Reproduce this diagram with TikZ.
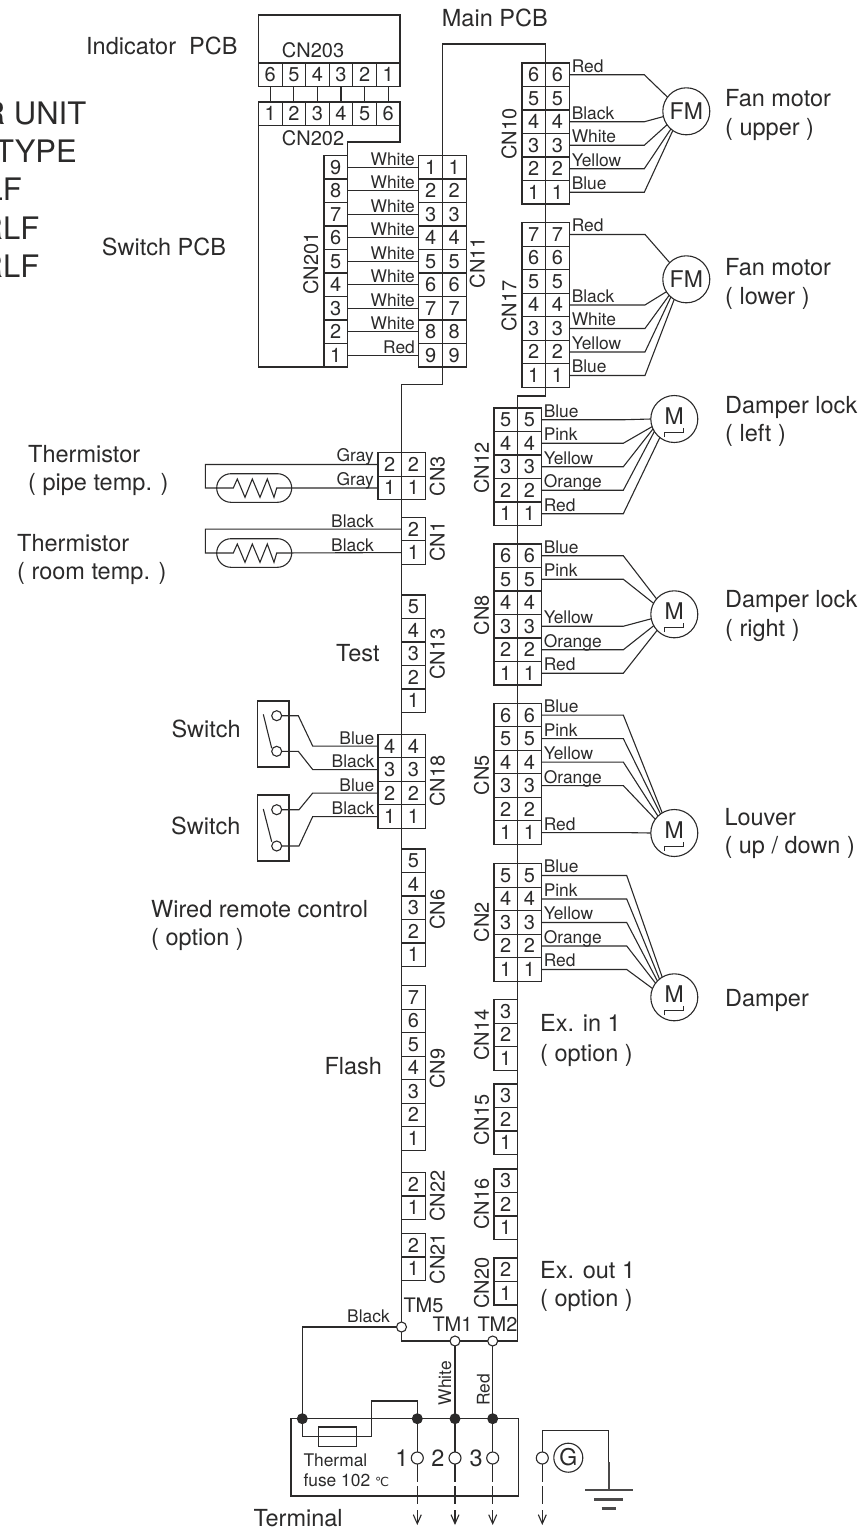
\documentclass[tikz,border=0pt]{standalone}
\usepackage{fontspec}
\setmainfont{TeX Gyre Heros}
\newfontfamily\djfont{DejaVu Sans}
\usetikzlibrary{arrows.meta}
\definecolor{ink}{HTML}{2B2A2A}
\newcommand{\fsbig}{\fontsize{23.5}{28}\selectfont}
\newcommand{\fsmid}{\fontsize{20}{24}\selectfont}
\newcommand{\fswire}{\fontsize{17.4}{21}\selectfont}
\newcommand{\fshuge}{\fontsize{31}{37}\selectfont}
\newcommand{\lowered}[2]{\raisebox{-#1pt}[0pt][0pt]{#2}}
\tikzset{
  every node/.style={text=ink},
  wire/.style={draw=ink,line width=1.1pt,line join=miter},
  cell/.style={draw=ink,line width=1.1pt,rectangle,inner sep=0pt,outer sep=0pt,minimum width=23.6pt,minimum height=23.5pt,font=\fsmid},
  biglab/.style={anchor=base west,inner sep=0pt,font=\fsbig},
  midlab/.style={inner sep=0pt,font=\fsmid},
  cnlab/.style={inner sep=0pt,font=\fsmid,rotate=90},
  wl/.style={anchor=base west,inner sep=0pt,font=\fswire},
  wlr/.style={anchor=base east,inner sep=0pt,font=\fswire},
  motor/.style={draw=ink,line width=1.1pt,circle,minimum size=47pt,inner sep=0pt,outer sep=0pt,font=\fontsize{23}{28}\selectfont,fill=white},
  contact/.style={draw=ink,line width=1.1pt,circle,minimum size=10pt,inner sep=0pt,outer sep=0pt,fill=white},
  tcontact/.style={draw=ink,line width=1.1pt,circle,minimum size=12pt,inner sep=0pt,outer sep=0pt,fill=white},
  dot/.style={circle,fill=ink,minimum size=11pt,inner sep=0pt,outer sep=0pt},
  termdash/.style={wire,dash pattern=on 18pt off 4pt},
  termarrow/.style={wire,-{Straight Barb[length=9pt,width=8pt]}}
}
% vertical connector column: name, x left, y top, numbers top to bottom
\newcommand{\cncol}[4]{\foreach \n [count=\i from 0] in {#4}
  {\node[cell] (#1-\n) at ({#2+11.8},{#3+\i*23.5+11.75}) {\lowered{7}{\n}};}}
% horizontal connector row
\newcommand{\cnrow}[4]{\foreach \n [count=\i from 0] in {#4}
  {\node[cell] (#1-\n) at ({#2+\i*23.58+11.79},{#3+11.75}) {\lowered{7}{\n}};}}
% wire from a cell to a motor through an elbow
\newcommand{\mw}[4]{\draw[wire] (#1.east) node[wl,xshift=2pt,yshift=2.5pt] (lab-#1) {#4} -- (#1.east -| #2) -- (#3);}
\newcommand{\mmark}[1]{\draw[wire,line width=1pt] ([shift={(-10,18)}]#1.center) -- ++(0,-5) -- ++(19,0) -- ++(0,-4.5);}
\begin{document}
\begin{tikzpicture}[x=1pt,y=-1pt]
\useasboundingbox (0,0) rectangle (866,1535);
\clip (0,0) rectangle (866,1535);
\coordinate (eA) at (644.3,0);
\coordinate (eB) at (645,0);
\coordinate (eC) at (623.3,0);
\coordinate (eD) at (626.7,0);
\coordinate (eE) at (312.7,0);
% cut-off heading at the left edge
\node[anchor=base east,inner sep=0pt,font=\fshuge] (h1) at (86.5,124) {R UNIT};
\node[anchor=base east,inner sep=0pt,font=\fshuge] (h2) at (77,162.3) {TYPE};
\node[anchor=base east,inner sep=0pt,font=\fshuge] (h3) at (22,200.7) {LF};
\node[anchor=base east,inner sep=0pt,font=\fshuge] (h4) at (39.5,239.3) {RLF};
\node[anchor=base east,inner sep=0pt,font=\fshuge] (h5) at (39.5,277.3) {RLF};
\node[anchor=base east,inner sep=0pt,font=\fshuge] (h6) at (6,1527) {1};
% board outlines
\draw[wire] (258.5,63) -- (258.5,15) -- (400,15) -- (400,63);
\draw[wire] (258.5,125) -- (258.5,367) -- (324,367);
\draw[wire] (400,125) -- (400,142) -- (347.5,142) -- (347.5,155.5);
\draw[wire] (442.7,155.5) -- (442.7,44) -- (545.7,44) -- (545.7,396) -- (517.7,396) -- (517.7,1341) -- (401.7,1341) -- (401.7,384.3) -- (442.7,384.3) -- (442.7,367);
% connectors
\cnrow{CN203}{258.5}{63}{6,5,4,3,2,1}
\cnrow{CN202}{258.5}{102}{1,2,3,4,5,6}
\foreach \a/\b in {6/1,5/2,4/3,3/4,2/5,1/6} {\draw[wire] (CN203-\a.south) -- (CN202-\b.north);}
\cncol{CN201}{324}{155.5}{9,8,7,6,5,4,3,2,1}
\cncol{CN11L}{418.9}{155.5}{1,2,3,4,5,6,7,8,9}
\cncol{CN11R}{442.5}{155.5}{1,2,3,4,5,6,7,8,9}
\cncol{CN10L}{522}{63}{6,5,4,3,2,1}
\cncol{CN10R}{545.6}{63}{6,5,4,3,2,1}
\cncol{CN17L}{522}{222.7}{7,6,5,4,3,2,1}
\cncol{CN17R}{545.6}{222.7}{7,6,5,4,3,2,1}
\cncol{CN3L}{378}{452.7}{2,1}
\cncol{CN3R}{401.6}{452.7}{2,1}
\cncol{CN1}{401.6}{517.3}{2,1}
\cncol{CN13}{401.6}{595}{5,4,3,2,1}
\cncol{CN18L}{378}{734.3}{4,3,2,1}
\cncol{CN18R}{401.6}{734.3}{4,3,2,1}
\cncol{CN6}{401.6}{849}{5,4,3,2,1}
\cncol{CN9}{401.6}{985.7}{7,6,5,4,3,2,1}
\cncol{CN22}{401.6}{1172.5}{2,1}
\cncol{CN21}{401.6}{1233.5}{2,1}
\cncol{CN12L}{494}{408}{5,4,3,2,1}
\cncol{CN12R}{517.6}{408}{5,4,3,2,1}
\cncol{CN8L}{494}{544}{6,5,4,3,2,1}
\cncol{CN8R}{517.6}{544}{6,5,4,3,2,1}
\cncol{CN5L}{494}{703.3}{6,5,4,3,2,1}
\cncol{CN5R}{517.6}{703.3}{6,5,4,3,2,1}
\cncol{CN2L}{494}{863.7}{5,4,3,2,1}
\cncol{CN2R}{517.6}{863.7}{5,4,3,2,1}
\cncol{CN14}{494}{999.7}{3,2,1}
\cncol{CN15}{494}{1084}{3,2,1}
\cncol{CN16}{494}{1169}{3,2,1}
\cncol{CN20}{494}{1258}{2,1}
% connector names
\node[midlab] (t203) at (313,50) {CN203};
\node[midlab] (t202) at (313,138) {CN202};
\node[cnlab] (t201) at (310.8,263.7) {CN201};
\node[cnlab] (t11) at (477.3,262.5) {CN11};
\node[cnlab] (t10) at (509,134) {CN10};
\node[cnlab] (t17) at (509,306) {CN17};
\node[cnlab] (t3) at (437.3,476) {CN3};
\node[cnlab] (t1) at (437.3,541.5) {CN1};
\node[cnlab] (t13) at (437.3,654) {CN13};
\node[cnlab] (t18) at (437.3,781) {CN18};
\node[cnlab] (t6) at (437.3,909.5) {CN6};
\node[cnlab] (t9) at (437.3,1068.8) {CN9};
\node[cnlab] (t22) at (437.3,1196.3) {CN22};
\node[cnlab] (t21) at (437.3,1258.8) {CN21};
\node[cnlab] (t12) at (481.7,468) {CN12};
\node[cnlab] (t8) at (481.7,615) {CN8};
\node[cnlab] (t5) at (481.7,775) {CN5};
\node[cnlab] (t2) at (481.7,922) {CN2};
\node[cnlab] (t14) at (481.7,1035) {CN14};
\node[cnlab] (t15) at (481.7,1120) {CN15};
\node[cnlab] (t16) at (481.7,1204) {CN16};
\node[cnlab] (t20) at (481.7,1283.3) {CN20};
% CN201 to CN11
\foreach \a/\b/\t in {9/1/White,8/2/White,7/3/White,6/4/White,5/5/White,4/6/White,3/7/White,2/8/White,1/9/Red}
  {\draw[wire] (CN201-\a.east) -- (CN11L-\b.west) node[wlr,pos=1,xshift=-3.5pt,yshift=2pt] (w\a) {\t};}
% motors
\node[motor] (fm1) at (686.3,111.3) {\lowered{8.2}{FM}};
\node[motor] (fm2) at (686.3,279.3) {\lowered{8.2}{FM}};
\node[motor] (m1) at (674.3,419) {\lowered{5.5}{M}};
\node[motor] (m2) at (674.3,614.3) {\lowered{5.5}{M}};
\node[motor] (m3) at (674.3,833) {\lowered{5.5}{M}};
\node[motor] (m4) at (674.3,997.3) {\lowered{5.5}{M}};
\mmark{m1}\mmark{m2}\mmark{m3}\mmark{m4}
\mw{CN10R-6}{eA}{fm1.143}{Red}
\mw{CN10R-4}{eA}{fm1.193}{Black}
\mw{CN10R-3}{eA}{fm1.215}{White}
\mw{CN10R-2}{eA}{fm1.229}{Yellow}
\mw{CN10R-1}{eA}{fm1.235}{Blue}
\mw{CN17R-7}{eB}{fm2.135}{Red}
\mw{CN17R-4}{eB}{fm2.212}{Black}
\mw{CN17R-3}{eB}{fm2.223}{White}
\mw{CN17R-2}{eB}{fm2.229}{Yellow}
\mw{CN17R-1}{eB}{fm2.239}{Blue}
\mw{CN12R-5}{eC}{m1.180}{Blue}
\mw{CN12R-4}{eC}{m1.199}{Pink}
\mw{CN12R-3}{eC}{m1.205}{Yellow}
\mw{CN12R-2}{eC}{m1.212}{Orange}
\mw{CN12R-1}{eC}{m1.232}{Red}
\mw{CN8R-6}{eC}{m2.139}{Blue}
\mw{CN8R-5}{eC}{m2.152}{Pink}
\mw{CN8R-3}{eC}{m2.191}{Yellow}
\mw{CN8R-2}{eC}{m2.209}{Orange}
\mw{CN8R-1}{eC}{m2.223}{Red}
\mw{CN5R-6}{eC}{m3.121}{Blue}
\mw{CN5R-5}{eC}{m3.126}{Pink}
\mw{CN5R-4}{eC}{m3.134}{Yellow}
\mw{CN5R-3}{eC}{m3.144}{Orange}
\mw{CN5R-1}{eC}{m3.180}{Red}
\mw{CN2R-5}{eD}{m4.121}{Blue}
\mw{CN2R-4}{eD}{m4.129}{Pink}
\mw{CN2R-3}{eD}{m4.136}{Yellow}
\mw{CN2R-2}{eD}{m4.143}{Orange}
\mw{CN2R-1}{eD}{m4.158}{Red}
% thermistors
\draw[wire,rounded corners=14.3pt] (216.7,473.7) rectangle (291.7,502.3);
\draw[wire,rounded corners=14.3pt] (216.7,538.7) rectangle (291.7,567.3);
\draw[wire] (CN3L-2.west) -| (205.3,488) -- (233.3,488) -- ++(4,-9) -- ++(7.7,18.3) -- ++(7.3,-18.3) -- ++(7.7,18.3) -- ++(7.3,-18.3) -- ++(6.7,18.3) -- ++(2.7,-9.3) -- (CN3L-1.west);
\draw[wire] (CN1-2.west) -| (205.3,553) -- (233.3,553) -- ++(4,-9) -- ++(7.7,18.3) -- ++(7.3,-18.3) -- ++(7.7,18.3) -- ++(7.3,-18.3) -- ++(6.7,18.3) -- ++(2.7,-9.3) -- (CN1-1.west);
\node[wlr] (g1) at (374,461.7) {Gray};
\node[wlr] (g2) at (374,485) {Gray};
\node[wlr] (b1) at (374,527.3) {Black};
\node[wlr] (b2) at (374,551) {Black};
% switches
\draw[wire] (257.7,701) rectangle (289,767);
\draw[wire] (257.7,795) rectangle (289,861);
\draw[wire] (263.3,714.3) -- (271.7,748.3);
\draw[wire] (263.3,809) -- (271.7,841.7);
\node[contact] (s1a) at (276.7,715.7) {};
\node[contact] (s1b) at (276.7,751.3) {};
\node[contact] (s2a) at (276.7,809.7) {};
\node[contact] (s2b) at (276.7,846) {};
\draw[wire] (s1a.east) -- (298.3,715.7) -- (CN18L-4.west -| eE) -- (CN18L-4.west);
\draw[wire] (s1b.east) -- (298.3,751.3) -- (CN18L-3.west -| eE) -- (CN18L-3.west);
\draw[wire] (s2a.east) -- (299,809.7) -- (CN18L-2.west -| eE) -- (CN18L-2.west);
\draw[wire] (s2b.east) -- (299,846) -- (CN18L-1.west -| eE) -- (CN18L-1.west);
\node[wlr] (sl1) at (374.5,744) {Blue};
\node[wlr] (sl2) at (374.5,767) {Black};
\node[wlr] (sl3) at (374.5,791) {Blue};
\node[wlr] (sl4) at (374.5,814) {Black};
% big labels
\node[biglab] (a1) at (86,54) {Indicator\ \ PCB};
\node[biglab] (a2) at (101.7,255.7) {Switch PCB};
\node[biglab] (a3) at (441.7,26.7) {Main PCB};
\node[biglab] (a4) at (725,106.7) {Fan motor};
\node[biglab] (a5) at (725,135) {( upper )};
\node[biglab] (a6) at (725,275) {Fan motor};
\node[biglab] (a7) at (725,304) {( lower )};
\node[biglab] (a8) at (725,413.3) {Damper lock};
\node[biglab] (a9) at (725,441.7) {( left )};
\node[biglab] (a10) at (725,607.7) {Damper lock};
\node[biglab] (a11) at (725,636) {( right )};
\node[biglab] (a12) at (724.3,825) {Louver};
\node[biglab] (a13) at (724.3,853.3) {( up / down )};
\node[biglab] (a14) at (725,1006.7) {Damper};
\node[biglab] (a15) at (540,1031.7) {Ex. in 1};
\node[biglab] (a16) at (540,1061.7) {( option )};
\node[biglab] (a17) at (540,1278.3) {Ex. out 1};
\node[biglab] (a18) at (540,1306.7) {( option )};
\node[biglab] (a19) at (28,462.3) {Thermistor};
\node[biglab] (a20) at (28,490) {( pipe temp. )};
\node[biglab] (a21) at (17,551) {Thermistor};
\node[biglab] (a22) at (17,579) {( room temp. )};
\node[biglab] (a23) at (336,661.7) {Test};
\node[biglab] (a24) at (171.3,737.7) {Switch};
\node[biglab] (a25) at (171,834) {Switch};
\node[biglab] (a26) at (151,917.3) {Wired remote control};
\node[biglab] (a27) at (151,945.7) {( option )};
\node[biglab] (a28) at (324.3,1074.3) {Flash};
\node[biglab] (a29) at (253.3,1526) {Terminal};
% terminal points on the main board
\node[contact] (tm5) at (401.5,1327) {};
\node[contact] (tm1) at (455,1341) {};
\node[contact] (tm2) at (492.7,1341) {};
\node[midlab,anchor=base west] (l5) at (403.3,1312.7) {TM5};
\node[midlab,anchor=base west] (l1) at (432.3,1331.7) {TM1};
\node[midlab,anchor=base west] (l2) at (477.3,1331.7) {TM2};
\node[wlr] (tb) at (390,1322.7) {Black};
% terminal block
\draw[wire] (291,1418.7) rectangle (518.3,1496);
\draw[wire,line width=1.5pt] (291,1418.7) -- (518.3,1418.7);
\node[dot] (d0) at (302.3,1418.7) {};
\node[dot] (d1) at (417.3,1418.7) {};
\node[dot] (d2) at (455,1418.7) {};
\node[dot] (d3) at (492.7,1418.7) {};
\draw[wire] (tm5.west) -| (d0.center);
\draw[wire] (tm1.south) -- (d2.center);
\draw[wire] (tm2.south) -- (d3.center);
\draw[wire] (d0.center) |- (371.7,1436.7) |- (417.3,1401) -- (d1.center);
\draw[wire] (318.3,1427) rectangle (356.7,1446.3);
\node[tcontact] (c1) at (417.3,1458) {};
\node[tcontact] (c2) at (455,1458) {};
\node[tcontact] (c3) at (492.7,1458) {};
\node[tcontact] (c4) at (542.3,1458) {};
\draw[wire] (d1.center) -- (c1.north);
\draw[wire] (d2.center) -- (c2.north);
\draw[wire] (d3.center) -- (c3.north);
\foreach \c/\x in {c1/417.3,c2/455,c3/492.7,c4/542.3} {
  \coordinate (\c-e) at (\x,1505);
  \coordinate (\c-s) at (\x,1510);
  \coordinate (\c-t) at (\x,1525);
  \draw[termdash] (\c.south) -- (\c-e);
  \draw[termarrow] (\c-s) -- (\c-t);
}
\node[biglab] (n1) at (395.2,1466) {1};
\node[biglab] (n2) at (431.2,1466) {2};
\node[biglab] (n3) at (469.5,1466) {3};
\node[wl] (f1) at (303.3,1466.7) {Thermal};
\node[wl] (f2) at (303.3,1486.7) {fuse 102 {\djfont\fontsize{12.5}{15}\selectfont ℃}};
\node[wl,anchor=center,rotate=90] (rw) at (445,1383) {White};
\node[wl,anchor=center,rotate=90] (rr) at (483.3,1390) {Red};
% ground
\node[motor,minimum size=29pt] (gnd) at (568.3,1457.7) {\lowered{8.2}{G}};
\coordinate (gt) at (608.7,1490);
\draw[wire] (c4.north) |- (608.7,1430.7) -- (608.7,1462);
\draw[wire,line width=2.4pt,draw=ink!85] (608.7,1462) -- (gt);
\draw[wire,line width=2.4pt,draw=ink!85] (585,1490) -- (632.7,1490);
\draw[wire,line width=2.4pt,draw=ink!85] (594.3,1499.3) -- (622.7,1499.3);
\draw[wire,line width=2.4pt,draw=ink!85] (601.7,1508.3) -- (616,1508.3);
\end{tikzpicture}
\end{document}
